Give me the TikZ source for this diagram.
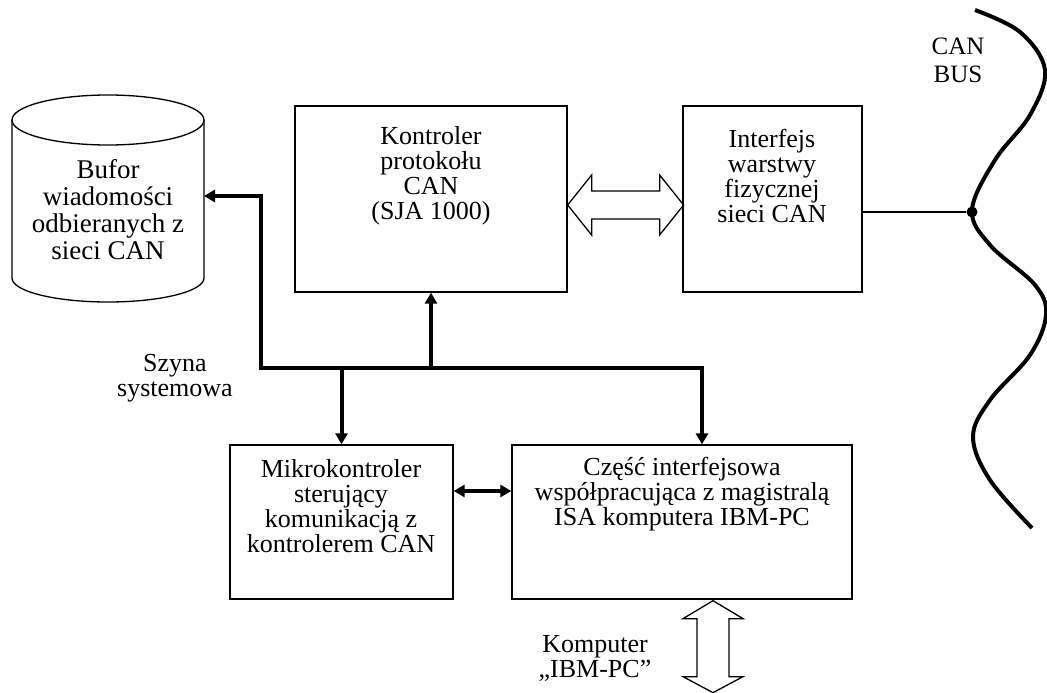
\documentclass[tikz,border=0pt]{standalone}
\usepackage{fontspec}
\setmainfont{Liberation Serif}
\usetikzlibrary{arrows.meta,calc}

\tikzset{
  >={Triangle[length=11pt,width=12pt]},
  blok/.style={draw, line width=1.3pt, inner sep=0pt},
  opis/.style={align=center, inner sep=0pt, font=\fontsize{26}{25}\selectfont},
  szyna/.style={line width=4pt},
}

\begin{document}
\begin{tikzpicture}[x=1pt,y=1pt]
\useasboundingbox (0,0) rectangle (1047,-693);

% bufor
\draw[line width=1.3pt] (12,-120) -- (12,-278) arc[start angle=180,end angle=360,x radius=96,y radius=24] -- (204,-120);
\draw[line width=1.3pt] (108,-120) ellipse[x radius=96,y radius=25];
\coordinate (bufor) at (204,-196);
\node[opis, font=\fontsize{27}{27}\selectfont] (buftxt) at (108,-210) {Bufor\\wiadomości\\odbieranych z\\sieci CAN};

% bloki
\node[blok, minimum width=272, minimum height=186] (ctrl) at (431,-199) {};
\node[opis] (ctrltxt) at (431,-176) {Kontroler\\protokołu\\CAN\\(SJA 1000)};
\node[blok, minimum width=179, minimum height=186] (phy) at (772.5,-199) {};
\node[opis] (phytxt) at (772,-176) {Interfejs\\warstwy\\fizycznej\\sieci CAN};
\node[blok, minimum width=223, minimum height=154] (mcu) at (341.5,-522) {};
\node[opis] (mcutxt) at (341,-506) {Mikrokontroler\\sterujący\\komunikacją z\\kontrolerem CAN};
\node[blok, minimum width=340, minimum height=154] (isa) at (682,-522) {};
\node[opis] (isatxt) at (682,-494) {Część interfejsowa\\współpracująca z magistralą\\ISA komputera IBM-PC};

% szyna systemowa
\coordinate (busL) at (261,-368);
\coordinate (busR) at (702,-368);
\draw[szyna, <->] (isa.north -| busR) -- (busR) -- (busL) -- (busL |- bufor) -- (bufor);
\draw[szyna, ->] (ctrl.south |- busL) -- (ctrl.south);
\draw[szyna, ->] (mcu.north |- busL) -- (mcu.north);
\node[opis] (szyna) at (175,-378) {Szyna\\systemowa};

\coordinate (mi) at ($(mcu.east)+(0,31)$);
\draw[szyna, <->] (mi) -- (mi -| isa.west);

% strzalki blokowe
\draw[line width=1.3pt] ($(ctrl.east)+(0,-6)$) -- ++(24,30) -- ++(0,-16) -- ++(68,0) -- ++(0,16) -- ++(24,-30)
  -- ++(-24,-30) -- ++(0,16) -- ++(-68,0) -- ++(0,-16) -- cycle;
\draw[line width=1.3pt] ($(isa.south)+(31,-1)$) -- ++(30,-18) -- ++(-14,0) -- ++(0,-58) -- ++(14,0) -- ++(-30,-16)
  -- ++(-30,16) -- ++(14,0) -- ++(0,58) -- ++(-14,0) -- cycle;
\node[opis] (pc) at (595,-658) {Komputer\\„IBM-PC”};

% CAN BUS
\node[circle, fill, inner sep=0pt, minimum size=11pt] (tap) at (972,-212) {};
\draw[line width=1.3pt] (phy.east |- tap) -- (tap);
\draw[line width=4pt] plot[smooth, tension=0.6] coordinates {(975,-10) (1020,-32) (1045,-70) (1030,-115) (995,-160)
  (972,-210) (990,-245) (1035,-285) (1046,-315) (1030,-355) (990,-400) (973,-437) (990,-480) (1032,-528)};
\node[opis, font=\fontsize{25}{28}\selectfont] (canbus) at (958,-60) {CAN\\BUS};
\end{tikzpicture}
\end{document}
